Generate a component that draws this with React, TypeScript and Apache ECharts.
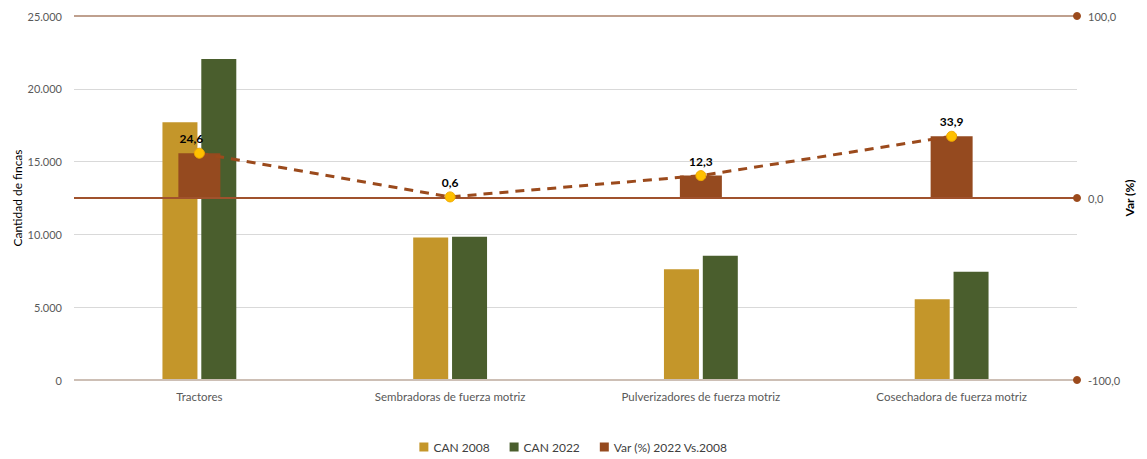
import React, { useEffect, useRef } from "react";
import * as echarts from "echarts";

const categories = [
  "Tractores",
  "Sembradoras de fuerza motriz",
  "Pulverizadores de fuerza motriz",
  "Cosechadora de fuerza motriz",
];
const can2008 = [17700, 9780, 7600, 5550];
const can2022 = [22050, 9840, 8535, 7430];
const varPct = [24.6, 0.6, 12.3, 33.9];
const leftTicks = { min: 0, max: 25000, interval: 5000 };
const rightTicks = { min: -100, max: 100, interval: 100 };

const FONT = "Lato";
const fmtThousands = (v: number) =>
  v === 0 ? "0" : Math.round(v).toString().replace(/\B(?=(\d{3})+(?!\d))/g, ".");
const fmtDec = (v: number) => v.toFixed(1).replace(".", ",");

export default function App() {
  const ref = useRef<HTMLDivElement>(null);
  useEffect(() => {
    if (!ref.current) return;
    const chart = echarts.init(ref.current, undefined, { renderer: "svg" });
    chart.setOption({
      animation: false,
      textStyle: { fontFamily: FONT },
      grid: { left: 66, right: 62, top: 8, bottom: 79, containLabel: false, outerBoundsMode: "none" },
      legend: {
        bottom: 1,
        left: "center",
        data: ["CAN 2008", "CAN 2022", "Var (%) 2022 Vs.2008"],
        icon: "rect",
        itemWidth: 9,
        itemHeight: 9,
        itemGap: 20,
        textStyle: { fontFamily: FONT, fontSize: 12, color: "#404040" },
      },
      xAxis: [
        {
          type: "category",
          data: categories,
          axisTick: { show: false },
          axisLine: { show: false },
          axisLabel: { color: "#595959", fontSize: 11.5, margin: 10, fontFamily: FONT },
        },
        {
          type: "category",
          data: categories,
          show: false,
        },
      ],
      yAxis: [
        {
          type: "value",
          min: leftTicks.min,
          max: leftTicks.max,
          interval: leftTicks.interval,
          name: "Cantidad de fincas",
          nameLocation: "middle",
          nameGap: 51,
          nameMoveOverlap: false,
          nameTextStyle: { color: "#000", fontSize: 12, fontFamily: FONT },
          axisLabel: { color: "#595959", fontSize: 11, margin: 12, formatter: fmtThousands, fontFamily: FONT },
          axisLine: { show: false },
          axisTick: { show: false },
          splitLine: { lineStyle: { color: "#D9D9D9", width: 1 } },
        },
        {
          type: "value",
          min: rightTicks.min,
          max: rightTicks.max,
          interval: rightTicks.interval,
          position: "right",
          name: "Var (%)",
          nameLocation: "middle",
          nameGap: 46,
          nameMoveOverlap: false,
          nameTextStyle: { color: "#000", fontSize: 12, fontWeight: "bold", fontFamily: FONT },
          axisLabel: { color: "#595959", fontSize: 11, margin: 11, formatter: fmtDec, fontFamily: FONT },
          axisLine: { show: false },
          axisTick: { show: false },
          splitLine: { show: false },
        },
      ],
      series: [
        {
          name: "CAN 2008",
          type: "bar",
          data: can2008,
          barWidth: 35,
          barGap: "11%",
          itemStyle: { color: "#C4962A" },
        },
        {
          name: "CAN 2022",
          type: "bar",
          data: can2022,
          barWidth: 35,
          barGap: "11%",
          itemStyle: { color: "#4A5E2D" },
        },
        {
          name: "Var (%) 2022 Vs.2008",
          type: "bar",
          xAxisIndex: 1,
          yAxisIndex: 1,
          data: varPct,
          barWidth: 42,
          itemStyle: { color: "#954A1F" },
          markLine: {
            silent: true,
            symbol: ["none", "none"],
            label: { show: false },
            data: [
              { yAxis: 100, lineStyle: { color: "#BFA08E", width: 2, type: "solid" } },
              { yAxis: 0, lineStyle: { color: "#A0522D", width: 2, type: "solid" } },
              { yAxis: -100, lineStyle: { color: "#CDBFB5", width: 2, type: "solid" } },
            ],
          },
        },
        {
          name: "Var línea",
          type: "line",
          xAxisIndex: 1,
          yAxisIndex: 1,
          data: varPct,
          symbol: "circle",
          symbolSize: 10,
          itemStyle: { color: "#FFC000", borderColor: "#F0A800", borderWidth: 1 },
          lineStyle: { color: "#9B4A1C", width: 3, type: [9, 7] },
          label: {
            show: true,
            position: "top",
            distance: 3,
            color: "#000",
            fontWeight: "bold",
            fontSize: 12,
            fontFamily: FONT,
            formatter: (p: any) => fmtDec(p.value),
          },
          labelLayout: (p: any) => (p.dataIndex === 0 ? { dx: -8 } : {}),
          markLine: {
            silent: true,
            symbol: ["none", "circle"],
            symbolSize: 8,
            label: { show: false },
            lineStyle: { color: "#9B4A1C", width: 0, type: "solid" },
            data: [{ yAxis: 100 }, { yAxis: 0 }, { yAxis: -100 }],
          },
          z: 5,
        },
      ],
    });
    return () => chart.dispose();
  }, []);
  return <div ref={ref} style={{ width: 1131, height: 451 }} />;
}
